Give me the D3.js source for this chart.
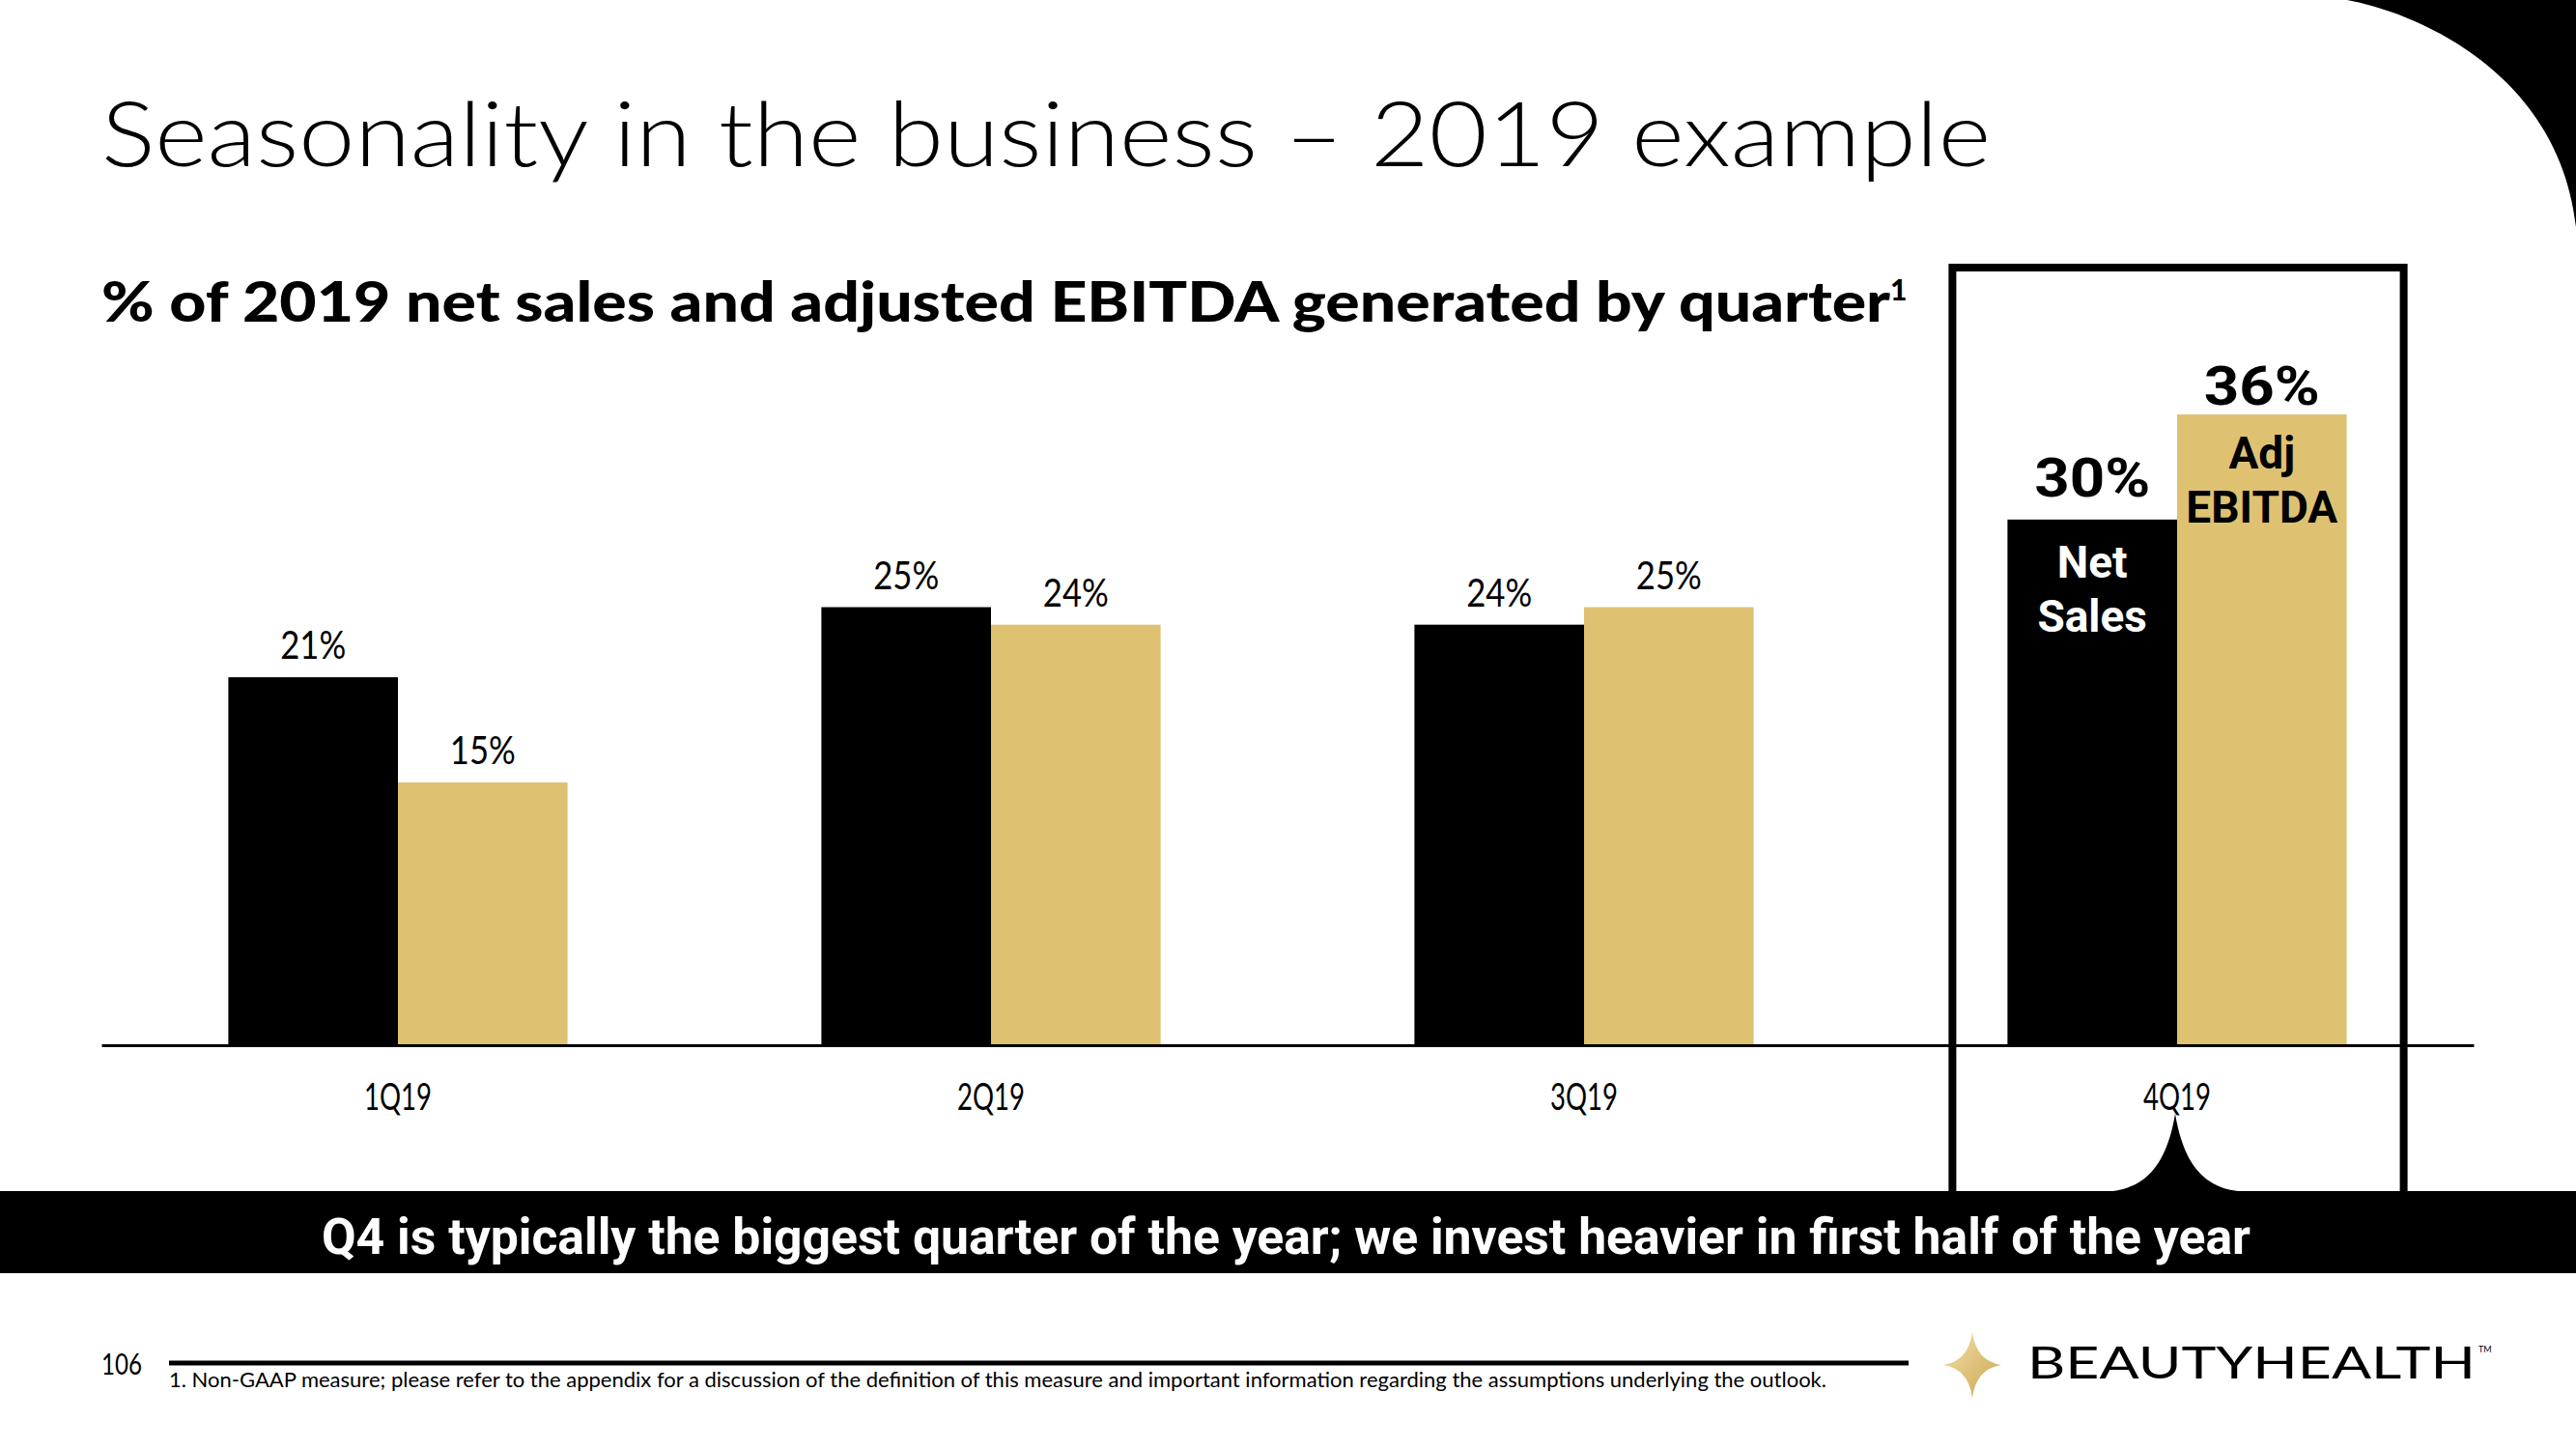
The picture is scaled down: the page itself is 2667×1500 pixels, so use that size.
<!DOCTYPE html>
<html>
<head>
<meta charset="utf-8">
<script src="https://cdn.jsdelivr.net/npm/d3@7"></script>
<style>
  html, body { margin: 0; padding: 0; background: #ffffff; }
  svg { display: block; }
</style>
</head>
<body>
<div id="chart"></div>
<script>
// ---- data ----
const categories = ["1Q19", "2Q19", "3Q19", "4Q19"];
const seriesNames = ["Net Sales", "Adj EBITDA"];
const netSales = [21, 25, 24, 30];
const adjEbitda = [15, 24, 25, 36];
const valueLabels = [["21%", "25%", "24%", "30%"], ["15%", "24%", "25%", "36%"]];
const highlightCategory = "4Q19";
const highlightNames = [["Net", "Sales"], ["Adj", "EBITDA"]];
const titleText = "Seasonality in the business \u2013 2019 example";
const subtitleText = "% of 2019 net sales and adjusted EBITDA generated by quarter";
const bannerText = "Q4 is typically the biggest quarter of the year; we invest heavier in first half of the year";
const footnoteText = "1. Non-GAAP measure; please refer to the appendix for a discussion of the definition of this measure and important information regarding the assumptions underlying the outlook.";
const pageNumber = "106";
const brandText = "BEAUTYHEALTH";

// ---- layout ----
const W = 2667, H = 1500;
const colors = ["#000000", "#DEC272"];
const baseY = 1082;

const svg = d3.select("#chart").append("svg")
  .attr("width", W).attr("height", H)
  .attr("viewBox", `0 0 ${W} ${H}`);

svg.append("rect").attr("width", W).attr("height", H).attr("fill", "#fff");

// top-right decorative corner
svg.append("path")
  .attr("d", "M2430,0 C2510,15 2650,80 2667,235 L2667,0 Z")
  .attr("fill", "#000");

// title
svg.append("text")
  .attr("x", 105).attr("y", 172)
  .attr("font-family", "Lato, 'Open Sans', sans-serif")
  .attr("font-weight", 300)
  .attr("font-size", 92)
  .attr("textLength", 1956).attr("lengthAdjust", "spacingAndGlyphs")
  .attr("fill", "#000")
  .text(titleText);

// subtitle
const sub = svg.append("text")
  .attr("x", 105).attr("y", 333)
  .attr("font-family", "Lato, 'Open Sans', sans-serif")
  .attr("font-weight", 900)
  .attr("font-size", 57)
  .attr("fill", "#000");
sub.append("tspan").text(subtitleText)
  .attr("textLength", 1852).attr("lengthAdjust", "spacingAndGlyphs");
sub.append("tspan").text("1").attr("font-size", 30).attr("dy", -22);

// scales
const x = d3.scaleBand().domain(categories).range([105, 2561])
  .paddingInner(0.428).paddingOuter(0.214);
const xs = d3.scaleBand().domain(seriesNames).range([0, x.bandwidth()]).padding(0);
const y = d3.scaleLinear().domain([0, 36]).range([baseY, 429]);

const rows = categories.map((c, i) => ({
  cat: c,
  vals: [
    { s: seriesNames[0], v: netSales[i], label: valueLabels[0][i], k: 0 },
    { s: seriesNames[1], v: adjEbitda[i], label: valueLabels[1][i], k: 1 }
  ]
}));

// highlight box around 4Q19
const hx0 = x(highlightCategory), hx1 = hx0 + x.bandwidth();
svg.append("path")
  .attr("d", `M${hx0 - 57},1233 V277 H${hx1 + 59} V1233`)
  .attr("fill", "none").attr("stroke", "#000").attr("stroke-width", 8);

// bars
const groups = svg.append("g").selectAll("g").data(rows).join("g")
  .attr("transform", d => `translate(${x(d.cat)},0)`);

groups.selectAll("rect").data(d => d.vals).join("rect")
  .attr("x", d => xs(d.s))
  .attr("y", d => y(d.v))
  .attr("width", xs.bandwidth())
  .attr("height", d => baseY - y(d.v))
  .attr("fill", d => colors[d.k]);

// value labels (regular categories)
groups.filter(d => d.cat !== highlightCategory)
  .selectAll("text.val").data(d => d.vals).join("text")
  .attr("class", "val")
  .attr("x", d => xs(d.s) + xs.bandwidth() / 2)
  .attr("y", d => y(d.v) - 19)
  .attr("text-anchor", "middle")
  .attr("font-family", "Lato, 'Open Sans', sans-serif")
  .attr("font-weight", 400)
  .attr("font-size", 40)
  .attr("textLength", 68).attr("lengthAdjust", "spacingAndGlyphs")
  .attr("fill", "#000")
  .text(d => d.label);

// highlighted category labels
const hl = groups.filter(d => d.cat === highlightCategory);
hl.selectAll("text.val").data(d => d.vals).join("text")
  .attr("class", "val")
  .attr("x", d => xs(d.s) + xs.bandwidth() / 2)
  .attr("y", d => y(d.v) - (d.k === 0 ? 24 : 10))
  .attr("text-anchor", "middle")
  .attr("font-family", "Roboto, sans-serif")
  .attr("font-weight", 700)
  .attr("font-size", 56)
  .attr("textLength", 120).attr("lengthAdjust", "spacingAndGlyphs")
  .attr("fill", "#000")
  .text(d => d.label);

hl.selectAll("text.name").data(d => d.vals).join("text")
  .attr("class", "name")
  .attr("x", d => xs(d.s) + xs.bandwidth() / 2)
  .attr("y", d => y(d.v) + (d.k === 0 ? 60 : 56))
  .attr("text-anchor", "middle")
  .attr("font-family", "Roboto, sans-serif")
  .attr("font-weight", 700)
  .attr("font-size", 46)
  .attr("fill", d => d.k === 0 ? "#fff" : "#000")
  .each(function(d) {
    const t = d3.select(this);
    highlightNames[d.k].forEach((w, i) => {
      t.append("tspan")
        .attr("x", xs(d.s) + xs.bandwidth() / 2)
        .attr("dy", i === 0 ? 0 : 56)
        .text(w);
    });
  });

// x axis
const axis = svg.append("g")
  .attr("transform", `translate(0,${baseY})`)
  .call(d3.axisBottom(x).tickSize(0).tickSizeOuter(0).tickPadding(39));
axis.select(".domain").attr("stroke", "#000").attr("stroke-width", 3);
axis.selectAll(".tick text")
  .attr("font-family", "Lato, 'Open Sans', sans-serif")
  .attr("font-weight", 400)
  .attr("font-size", 39)
  .attr("textLength", 70).attr("lengthAdjust", "spacingAndGlyphs")
  .attr("fill", "#000");

// brace under 4Q19
const bc = x(highlightCategory) + x.bandwidth() / 2 - 2;
svg.append("path")
  .attr("d", `M${bc - 82},1234 C${bc - 47},1234 ${bc - 12},1225 ${bc},1153 C${bc + 12},1225 ${bc + 47},1234 ${bc + 82},1234 Z`)
  .attr("fill", "#000");

// banner
svg.append("rect").attr("x", 0).attr("y", 1233).attr("width", W).attr("height", 85).attr("fill", "#000");
svg.append("text")
  .attr("x", 333).attr("y", 1298)
  .attr("font-family", "Roboto, sans-serif")
  .attr("font-weight", 700)
  .attr("font-size", 52)
  .attr("textLength", 1997).attr("lengthAdjust", "spacingAndGlyphs")
  .attr("fill", "#fff")
  .text(bannerText);

// footer
svg.append("text")
  .attr("x", 105).attr("y", 1423)
  .attr("font-family", "Lato, 'Open Sans', sans-serif")
  .attr("font-size", 30)
  .attr("textLength", 42).attr("lengthAdjust", "spacingAndGlyphs")
  .attr("fill", "#000")
  .text(pageNumber);
svg.append("line")
  .attr("x1", 175).attr("x2", 1976).attr("y1", 1411).attr("y2", 1411)
  .attr("stroke", "#000").attr("stroke-width", 5);
svg.append("text")
  .attr("x", 175).attr("y", 1436)
  .attr("font-family", "Lato, 'Open Sans', sans-serif")
  .attr("font-size", 22)
  .attr("textLength", 1716).attr("lengthAdjust", "spacingAndGlyphs")
  .attr("fill", "#000")
  .text(footnoteText);

// logo
const defs = svg.append("defs");
const grad = defs.append("linearGradient").attr("id", "gold")
  .attr("x1", "0%").attr("y1", "0%").attr("x2", "100%").attr("y2", "100%");
grad.append("stop").attr("offset", "0%").attr("stop-color", "#F4E1A6");
grad.append("stop").attr("offset", "100%").attr("stop-color", "#C9A552");
const cx = 2042, cy = 1413;
svg.append("path")
  .attr("d", `M${cx},${cy - 34} Q${cx + 4},${cy - 4} ${cx + 30},${cy} Q${cx + 4},${cy + 4} ${cx},${cy + 34} Q${cx - 4},${cy + 4} ${cx - 30},${cy} Q${cx - 4},${cy - 4} ${cx},${cy - 34} Z`)
  .attr("fill", "url(#gold)");
svg.append("text")
  .attr("x", 2099).attr("y", 1427)
  .attr("font-family", "Lato, 'Open Sans', sans-serif")
  .attr("font-weight", 400)
  .attr("font-size", 47)
  .attr("textLength", 464).attr("lengthAdjust", "spacingAndGlyphs")
  .attr("fill", "#000")
  .text(brandText);
svg.append("text")
  .attr("x", 2566).attr("y", 1400)
  .attr("font-family", "Lato, sans-serif")
  .attr("font-size", 9)
  .attr("fill", "#000")
  .text("TM");
</script>
</body>
</html>
